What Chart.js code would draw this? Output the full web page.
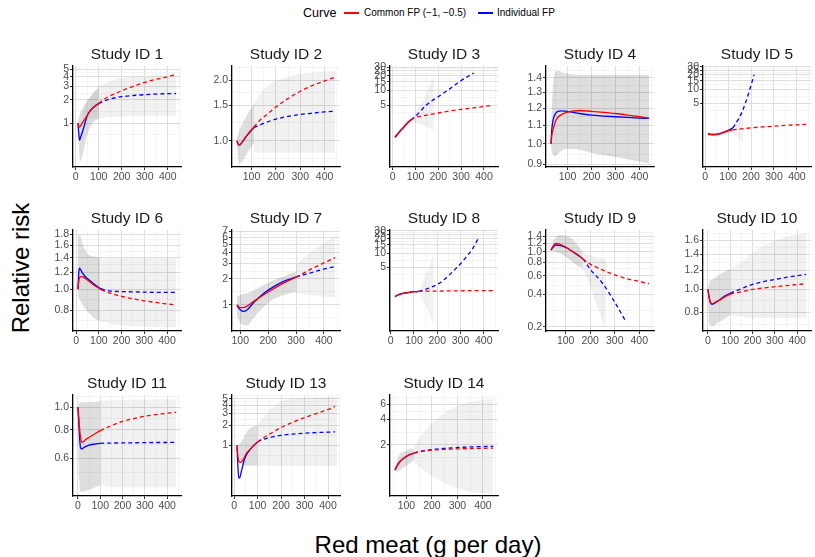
<!DOCTYPE html>
<html>
<head>
<meta charset="utf-8">
<script src="https://cdn.jsdelivr.net/npm/chart.js@4.4.1/dist/chart.umd.min.js"></script>
<style>
  body { margin: 0; width: 815px; height: 557px; position: relative; overflow: hidden; background: #fff;
         font-family: "Liberation Sans", Arial, sans-serif; color: #000; }
  canvas { position: absolute; }
  .txt { position: absolute; white-space: nowrap; line-height: 1; }
  .key { position: absolute; height: 1.6px; width: 15px; }
</style>
</head>
<body>
<div class="txt" style="left:303px;top:7px;font-size:12.5px">Curve</div>
<div class="key" style="left:344px;top:12px;background:#ff0000"></div>
<div class="txt" style="left:364px;top:8px;font-size:10px">Common FP (−1, −0.5)</div>
<div class="key" style="left:478px;top:12px;background:#0000ff"></div>
<div class="txt" style="left:497px;top:8px;font-size:10px">Individual FP</div>
<div class="txt" style="font-size:24px;left:21px;top:268px;transform:translate(-50%,-50%) rotate(-90deg)">Relative risk</div>
<div class="txt" style="font-size:24px;left:428px;top:545px;transform:translate(-50%,-50%)">Red meat (g per day)</div>
<script>
// ---- data: x (g/day), relative risk ----
const s1x = [10, 14, 17, 22, 30, 40, 50, 65, 80, 100, 130, 160, 200, 250, 300, 350, 400, 436];
const s1red = [1.0, 0.91, 0.89, 0.92, 1.02, 1.12, 1.25, 1.45, 1.62, 1.81, 2.1, 2.33, 2.63, 3.0, 3.37, 3.7, 4.0, 4.3];
const s1blue = [1.0, 0.72, 0.6, 0.66, 0.78, 0.98, 1.25, 1.47, 1.63, 1.78, 1.97, 2.09, 2.2, 2.28, 2.34, 2.38, 2.41, 2.42];
const d1x = [10, 15, 20, 30, 40, 50, 65, 80, 100];
const d1lo = [0.95, 0.45, 0.32, 0.38, 0.52, 0.7, 0.9, 1.05, 1.15];
const d1hi = [1.05, 1.2, 1.35, 1.55, 1.75, 1.95, 2.2, 2.5, 2.8];
const l1x = [30, 50, 75, 100, 150, 200, 300, 436];
const l1lo = [1.0, 1.1, 1.13, 1.15, 1.2, 1.22, 1.24, 1.25];
const l1hi = [1.3, 1.9, 2.5, 2.95, 3.5, 3.85, 4.0, 4.05];

const s2x = [40, 45, 50, 60, 75, 90, 110, 130, 150, 200, 250, 300, 350, 400, 443];
const s2red = [1.0, 0.965, 0.955, 0.98, 1.04, 1.1, 1.17, 1.25, 1.31, 1.47, 1.62, 1.76, 1.88, 1.98, 2.07];
const s2blue = [1.0, 0.96, 0.95, 0.975, 1.035, 1.09, 1.16, 1.19, 1.22, 1.28, 1.32, 1.35, 1.37, 1.39, 1.4];
const d2x = [40, 45, 50, 60, 75, 90, 110];
const d2lo = [0.97, 0.82, 0.77, 0.78, 0.84, 0.9, 0.97];
const d2hi = [1.03, 1.08, 1.13, 1.2, 1.3, 1.4, 1.52];
const l2x = [110, 150, 200, 250, 300, 350, 443];
const l2lo = [0.87, 0.87, 0.87, 0.87, 0.87, 0.87, 0.87];
const l2hi = [1.52, 1.8, 1.98, 2.08, 2.15, 2.18, 2.22];

const s3x = [10, 30, 50, 65, 80, 100, 150, 200, 250, 300, 355, 400, 440];
const s3red = [1.12, 1.45, 1.84, 2.2, 2.5, 2.83, 3.17, 3.5, 3.85, 4.16, 4.45, 4.75, 5.0];
const s3blue = [1.12, 1.45, 1.83, 2.2, 2.55, 3.0, 5.2, 7.5, 10.8, 15.9, 22.7, null, null];
const d3x = [10, 30, 50, 65, 80];
const d3lo = [1.05, 1.32, 1.65, 1.97, 2.25];
const d3hi = [1.2, 1.6, 2.05, 2.45, 2.8];
const l3x = [80, 100, 120, 150, 180];
const l3lo = [2.25, 2.2, 2.1, 1.85, 1.5];
const l3hi = [2.8, 3.6, 5.0, 9.0, 20];

const s4x = [31, 35, 40, 50, 60, 75, 100, 150, 200, 250, 300, 350, 400, 440];
const s4red = [1.0, 1.045, 1.076, 1.12, 1.145, 1.16, 1.175, 1.185, 1.18, 1.174, 1.167, 1.158, 1.148, 1.14];
const s4blue = [1.0, 1.08, 1.13, 1.167, 1.18, 1.183, 1.18, 1.167, 1.157, 1.152, 1.148, 1.144, 1.14, 1.138];
const d4x = [31, 35, 40, 50, 60, 75, 100, 150, 200, 300, 440];
const d4lo = [0.99, 0.96, 0.945, 0.94, 0.95, 0.965, 0.975, 0.97, 0.955, 0.935, 0.905];
const d4hi = [1.02, 1.2, 1.35, 1.44, 1.45, 1.44, 1.43, 1.42, 1.42, 1.42, 1.42];
const l4x = [], l4lo = [], l4hi = [];

const s5x = [12, 25, 40, 60, 80, 100, 120, 140, 160, 175, 190, 200, 213, 250, 300, 350, 400, 440];
const s5red = [1.1, 1.07, 1.07, 1.11, 1.2, 1.3, 1.36, 1.4, 1.43, 1.45, 1.48, 1.5, 1.52, 1.57, 1.63, 1.69, 1.74, 1.78];
const s5blue = [1.13, 1.09, 1.08, 1.11, 1.2, 1.31, 1.5, 2.1, 3.2, 5.0, 8.3, 12, 20, null, null, null, null, null];
const d5x = [12, 40, 80, 120];
const d5lo = [1.03, 1.0, 1.1, 1.22];
const d5hi = [1.2, 1.16, 1.3, 1.55];
const l5x = [120, 140, 165];
const l5lo = [1.22, 1.0, 0.7];
const l5hi = [1.55, 2.3, 3.6];

const s6x = [8, 12, 15, 20, 30, 40, 50, 75, 100, 110, 150, 200, 250, 300, 350, 400, 440];
const s6red = [1.0, 1.09, 1.13, 1.144, 1.14, 1.12, 1.104, 1.05, 1.01, 0.995, 0.958, 0.925, 0.903, 0.883, 0.868, 0.855, 0.846];
const s6blue = [1.0, 1.2, 1.25, 1.23, 1.18, 1.145, 1.12, 1.066, 1.018, 1.005, 0.98, 0.975, 0.972, 0.969, 0.967, 0.966, 0.965];
const d6x = [8, 15, 30, 50, 75, 105];
const d6lo = [0.92, 0.9, 0.84, 0.79, 0.74, 0.71];
const d6hi = [1.75, 1.78, 1.6, 1.46, 1.42, 1.4];
const l6x = [105, 200, 300, 440];
const l6lo = [0.71, 0.68, 0.67, 0.665];
const l6hi = [1.39, 1.39, 1.39, 1.39];

const s7x = [88, 95, 100, 110, 125, 150, 175, 200, 250, 300, 350, 400, 440];
const s7red = [1.0, 0.95, 0.93, 0.93, 0.97, 1.11, 1.25, 1.41, 1.75, 2.09, 2.55, 3.05, 3.5];
const s7blue = [1.0, 0.91, 0.88, 0.84, 0.88, 1.08, 1.28, 1.48, 1.83, 2.09, 2.33, 2.59, 2.77];
const d7x = [88, 100, 125, 150, 200, 250, 300];
const d7lo = [0.75, 0.62, 0.58, 0.72, 1.05, 1.28, 1.42];
const d7hi = [1.25, 1.3, 1.36, 1.48, 1.8, 2.1, 2.42];
const l7x = [300, 350, 400, 440];
const l7lo = [1.35, 1.3, 1.25, 1.22];
const l7hi = [2.9, 4.0, 5.2, 6.2];

const s8x = [18, 30, 40, 60, 80, 100, 120, 150, 175, 200, 225, 250, 275, 300, 325, 350, 380, 400, 440];
const s8red = [1.17, 1.27, 1.33, 1.4, 1.45, 1.49, 1.52, 1.53, 1.535, 1.54, 1.545, 1.55, 1.555, 1.56, 1.565, 1.57, 1.575, 1.578, 1.58];
const s8blue = [1.17, 1.27, 1.33, 1.4, 1.45, 1.49, 1.52, 1.67, 1.88, 2.13, 2.6, 3.34, 4.4, 5.9, 8.3, 11.9, 22.3, null, null];
const d8x = [18, 60, 120];
const d8lo = [1.1, 1.32, 1.42];
const d8hi = [1.25, 1.48, 1.62];
const l8x = [120, 150, 185];
const l8lo = [1.42, 0.75, 0.3];
const l8hi = [1.62, 3.2, 9.5];

const s9x = [40, 50, 60, 75, 100, 125, 150, 170, 200, 250, 300, 345, 400, 440];
const s9red = [1.04, 1.14, 1.2, 1.18, 1.11, 1.02, 0.94, 0.86, 0.77, 0.68, 0.61, 0.565, 0.53, 0.505];
const s9blue = [1.04, 1.11, 1.16, 1.15, 1.1, 1.02, 0.93, 0.86, 0.69, 0.51, 0.34, 0.225, null, null];
const d9x = [40, 50, 60, 75, 100, 130, 150, 170];
const d9lo = [1.01, 1.02, 1.0, 0.97, 0.9, 0.8, 0.74, 0.7];
const d9hi = [1.07, 1.25, 1.38, 1.43, 1.42, 1.3, 1.15, 1.0];
const l9x = [170, 200, 230, 265];
const l9lo = [0.7, 0.48, 0.3, 0.19];
const l9hi = [1.0, 0.93, 0.88, 0.86];

const s10x = [0, 5, 10, 18, 30, 40, 60, 75, 100, 150, 200, 250, 300, 350, 400, 440];
const s10red = [1.0, 0.93, 0.89, 0.872, 0.88, 0.889, 0.91, 0.929, 0.953, 0.978, 1.0, 1.014, 1.026, 1.037, 1.047, 1.056];
const s10blue = [1.0, 0.93, 0.885, 0.866, 0.875, 0.889, 0.915, 0.938, 0.963, 1.006, 1.049, 1.078, 1.1, 1.122, 1.14, 1.154];
const d10x = [0, 5, 20, 50, 100];
const d10lo = [0.98, 0.72, 0.7, 0.73, 0.78];
const d10hi = [1.0, 1.07, 1.1, 1.15, 1.22];
const l10x = [100, 150, 200, 250, 300, 350, 440];
const l10lo = [0.78, 0.77, 0.76, 0.76, 0.76, 0.76, 0.76];
const l10hi = [1.22, 1.3, 1.42, 1.52, 1.6, 1.66, 1.72];

const s11x = [0, 4, 8, 12, 18, 25, 35, 50, 75, 100, 150, 200, 250, 300, 350, 400, 440];
const s11red = [1.0, 0.9, 0.8, 0.74, 0.705, 0.71, 0.725, 0.74, 0.766, 0.792, 0.832, 0.869, 0.893, 0.914, 0.93, 0.942, 0.951];
const s11blue = [1.0, 0.85, 0.73, 0.665, 0.66, 0.668, 0.676, 0.686, 0.693, 0.698, 0.7, 0.701, 0.702, 0.703, 0.704, 0.704, 0.705];
const d11x = [0, 5, 15, 50, 100];
const d11lo = [0.98, 0.5, 0.43, 0.44, 0.46];
const d11hi = [1.0, 1.04, 1.05, 1.055, 1.06];
const l11x = [100, 200, 300, 440];
const l11lo = [0.46, 0.45, 0.45, 0.45];
const l11hi = [1.07, 1.075, 1.078, 1.08];

const s13x = [12, 16, 20, 25, 30, 35, 40, 50, 75, 100, 150, 200, 250, 300, 350, 400, 430];
const s13red = [1.0, 0.7, 0.58, 0.55, 0.56, 0.58, 0.62, 0.73, 0.92, 1.12, 1.46, 1.85, 2.22, 2.61, 3.0, 3.45, 3.83];
const s13blue = [1.0, 0.5, 0.32, 0.33, 0.39, 0.46, 0.55, 0.69, 0.92, 1.12, 1.3, 1.41, 1.47, 1.52, 1.55, 1.57, 1.59];
const d13x = [12, 25, 40, 60, 80, 100];
const d13lo = [0.95, 0.6, 0.5, 0.49, 0.49, 0.49];
const d13hi = [1.0, 1.05, 1.3, 1.7, 1.9, 2.0];
const l13x = [100, 150, 200, 250, 300, 440];
const l13lo = [0.49, 0.49, 0.49, 0.49, 0.49, 0.49];
const l13hi = [2.0, 3.3, 4.6, 5.0, 5.2, 5.3];

const s14x = [55, 65, 75, 90, 100, 115, 130, 150, 200, 250, 300, 350, 400, 440];
const s14red = [1.0, 1.14, 1.26, 1.38, 1.45, 1.53, 1.59, 1.64, 1.72, 1.76, 1.78, 1.8, 1.81, 1.82];
const s14blue = [1.0, 1.14, 1.26, 1.38, 1.45, 1.53, 1.59, 1.65, 1.75, 1.81, 1.85, 1.88, 1.9, 1.91];
const d14x = [55, 65, 75, 100, 115, 130];
const d14lo = [0.97, 0.95, 1.0, 1.12, 1.22, 1.3];
const d14hi = [1.05, 1.35, 1.55, 1.68, 1.8, 1.75];
const l14x = [130, 150, 200, 250, 300, 350, 440];
const l14lo = [1.25, 1.1, 0.85, 0.7, 0.6, 0.55, 0.52];
const l14hi = [1.9, 2.4, 3.6, 4.8, 5.8, 6.5, 7.0];

// y axis: labelled breaks per panel
const t1 = [1, 2, 3, 4, 5], t2 = [1.0, 1.5, 2.0], t3 = [5, 10, 15, 20, 25, 30];
const t4 = [0.9, 1.0, 1.1, 1.2, 1.3, 1.4], t6 = [0.8, 1.0, 1.2, 1.4, 1.6, 1.8];
const t7 = [1, 2, 3, 4, 5, 6, 7], t9 = [0.2, 0.4, 0.6, 0.8, 1.0, 1.2, 1.4];
const t10 = [0.8, 1.0, 1.2, 1.4, 1.6], t11 = [0.6, 0.8, 1.0], t14 = [2, 4, 6];

const panels = [
  { title: 'Study ID 1', x: s1x, red: s1red, blue: s1blue, cut: 100, dark: [d1x, d1lo, d1hi], light: [l1x, l1lo, l1hi], y: [0.27, 5.5], ticks: t1 },
  { title: 'Study ID 2', x: s2x, red: s2red, blue: s2blue, cut: 110, dark: [d2x, d2lo, d2hi], light: [l2x, l2lo, l2hi], y: [0.74, 2.35], ticks: t2 },
  { title: 'Study ID 3', x: s3x, red: s3red, blue: s3blue, cut: 80, dark: [d3x, d3lo, d3hi], light: [l3x, l3lo, l3hi], y: [0.28, 31.5], ticks: t3 },
  { title: 'Study ID 4', x: s4x, red: s4red, blue: s4blue, cut: 1000, dark: [d4x, d4lo, d4hi], light: [l4x, l4lo, l4hi], y: [0.889, 1.486], ticks: t4 },
  { title: 'Study ID 5', x: s5x, red: s5red, blue: s5blue, cut: 120, dark: [d5x, d5lo, d5hi], light: [l5x, l5lo, l5hi], y: [0.22, 31], ticks: t3 },
  { title: 'Study ID 6', x: s6x, red: s6red, blue: s6blue, cut: 110, dark: [d6x, d6lo, d6hi], light: [l6x, l6lo, l6hi], y: [0.64, 1.88], ticks: t6 },
  { title: 'Study ID 7', x: s7x, red: s7red, blue: s7blue, cut: 300, dark: [d7x, d7lo, d7hi], light: [l7x, l7lo, l7hi], y: [0.5, 7.3], ticks: t7 },
  { title: 'Study ID 8', x: s8x, red: s8red, blue: s8blue, cut: 120, dark: [d8x, d8lo, d8hi], light: [l8x, l8lo, l8hi], y: [0.216, 31], ticks: t3 },
  { title: 'Study ID 9', x: s9x, red: s9red, blue: s9blue, cut: 170, dark: [d9x, d9lo, d9hi], light: [l9x, l9lo, l9hi], y: [0.183, 1.6], ticks: t9 },
  { title: 'Study ID 10', x: s10x, red: s10red, blue: s10blue, cut: 100, dark: [d10x, d10lo, d10hi], light: [l10x, l10lo, l10hi], y: [0.67, 1.77], ticks: t10 },
  { title: 'Study ID 11', x: s11x, red: s11red, blue: s11blue, cut: 100, dark: [d11x, d11lo, d11hi], light: [l11x, l11lo, l11hi], y: [0.413, 1.13], ticks: t11 },
  { title: 'Study ID 13', x: s13x, red: s13red, blue: s13blue, cut: 100, dark: [d13x, d13lo, d13hi], light: [l13x, l13lo, l13hi], y: [0.172, 5.7], ticks: t1 },
  { title: 'Study ID 14', x: s14x, red: s14red, blue: s14blue, cut: 130, dark: [d14x, d14lo, d14hi], light: [l14x, l14lo, l14hi], y: [0.49, 7.8], ticks: t14 },
];

// layout of the facet grid
const colAxis = [73, 232, 390, 546, 703];
const rowTop = [66, 230, 395];
const PW = 108, PH = 101, AXW = 40, TITLEH = 25, XAH = 20;
const FONT = "'Liberation Sans', Arial, sans-serif";
const DARK = 'rgba(0,0,0,0.13)', LIGHT = 'rgba(0,0,0,0.055)';

const pts = (xs, ys) => xs.map((x, i) => ({ x: x, y: ys[i] }));

function xTicks(min, max) {
  const t = [];
  for (let v = -100; v <= 500; v += 50) {
    if (v >= min && v <= max) t.push({ value: v, minor: v % 100 !== 0 });
  }
  return t;
}

function yTicks(maj, min, max) {
  const n = maj.length;
  const t = maj.map(v => ({ value: v }));
  for (let k = 0; k < n - 1; k++) t.push({ value: Math.sqrt(maj[k] * maj[k + 1]), minor: true });
  t.push({ value: maj[0] * Math.sqrt(maj[0] / maj[1]), minor: true });
  t.push({ value: maj[n - 1] * Math.sqrt(maj[n - 1] / maj[n - 2]), minor: true });
  return t.filter(o => o.value >= min && o.value <= max).sort((a, b) => a.value - b.value);
}

const grid = {
  color: c => (c.tick && c.tick.minor ? '#efefef' : '#dedede'),
  lineWidth: c => (c.tick && c.tick.minor ? 0.7 : 1),
  tickLength: 3,
  tickWidth: 1,
  tickColor: c => (c.tick && c.tick.minor ? 'rgba(0,0,0,0)' : '#333333'),
};
const border = { display: true, color: '#000000', width: 1.3 };
const tickFont = { family: FONT, size: 10.5 };

panels.forEach((p, i) => {
  const col = i % 5, row = Math.floor(i / 5);
  const cv = document.createElement('canvas');
  cv.width = AXW + PW + 6;
  cv.height = TITLEH + PH + XAH;
  cv.style.left = (colAxis[col] - AXW) + 'px';
  cv.style.top = (rowTop[row] - TITLEH) + 'px';
  document.body.appendChild(cv);

  const x0 = p.x[0], x1 = p.x[p.x.length - 1], pad = (x1 - x0) * 0.05;
  const dec = p.ticks.some(v => v % 1 !== 0) ? 1 : 0;

  const curve = (ys, color) => ({
    data: pts(p.x, ys),
    borderColor: color,
    borderWidth: 1.3,
    pointRadius: 0,
    cubicInterpolationMode: 'monotone',
    fill: false,
    segment: { borderDash: c => (c.p0.parsed.x >= p.cut ? [4, 3] : undefined) },
  });
  const band = (b, color) => [
    { data: pts(b[0], b[2]), borderColor: 'rgba(0,0,0,0)', borderWidth: 0, pointRadius: 0,
      cubicInterpolationMode: 'monotone', fill: '+1', backgroundColor: color },
    { data: pts(b[0], b[1]), borderColor: 'rgba(0,0,0,0)', borderWidth: 0, pointRadius: 0,
      cubicInterpolationMode: 'monotone', fill: false },
  ];

  new Chart(cv, {
    type: 'line',
    data: {
      datasets: [curve(p.red, '#ff0000'), curve(p.blue, '#0000ff'), ...band(p.dark, DARK), ...band(p.light, LIGHT)],
    },
    options: {
      responsive: false,
      animation: false,
      events: [],
      devicePixelRatio: 1,
      layout: { padding: { left: 0, right: 6, top: 0, bottom: 0 } },
      plugins: {
        legend: { display: false },
        tooltip: { enabled: false },
        title: {
          display: true, text: p.title, color: '#1a1a1a', fullSize: false,
          font: { family: FONT, size: 15.5, lineHeight: 1.2, weight: 'normal' },
          padding: { top: 4, bottom: 2.4 },
        },
      },
      scales: {
        x: {
          type: 'linear', min: x0 - pad, max: x1 + pad, bounds: 'data',
          afterBuildTicks: s => { s.ticks = xTicks(s.min, s.max); },
          afterFit: s => { s.height = XAH; },
          ticks: { autoSkip: false, maxRotation: 0, padding: 1, color: '#4d4d4d', font: tickFont,
                   callback: (v, k, t) => (t[k].minor ? '' : String(v)) },
          grid: grid, border: border,
        },
        y: {
          type: 'logarithmic', min: p.y[0], max: p.y[1], bounds: 'data',
          afterBuildTicks: s => { s.ticks = yTicks(p.ticks, p.y[0], p.y[1]); },
          afterFit: s => { s.width = AXW; },
          ticks: { autoSkip: false, padding: 1, color: '#4d4d4d', font: tickFont,
                   callback: (v, k, t) => (t[k].minor ? '' : v.toFixed(dec)) },
          grid: grid, border: border,
        },
      },
    },
  });
});
</script>
</body>
</html>
